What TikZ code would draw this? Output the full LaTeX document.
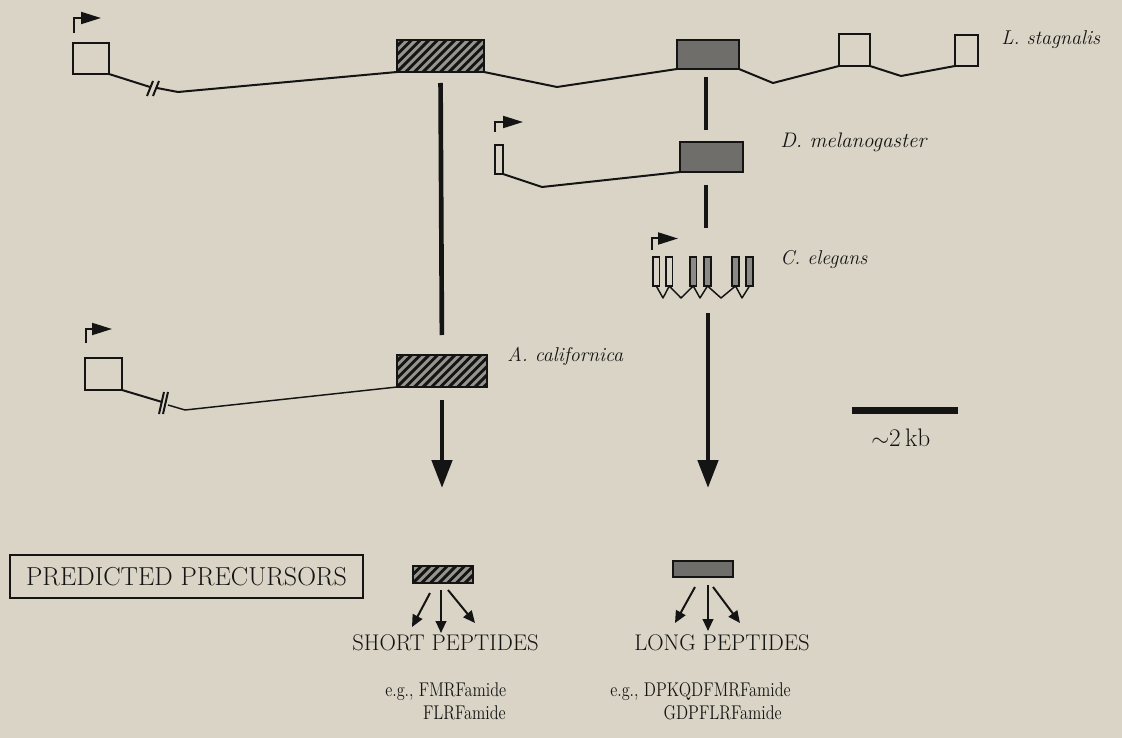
\documentclass[tikz,border=0pt]{standalone}
\usepackage{graphicx}
\usetikzlibrary{arrows.meta}
\definecolor{bg}{RGB}{217,212,197}
\definecolor{hatchbg}{RGB}{150,148,140}
\definecolor{shade}{RGB}{112,110,106}
\definecolor{ceshade}{RGB}{140,138,132}
\definecolor{ink}{RGB}{20,20,20}
\newcommand\exon[6]{\node[#6, minimum width={(#4-#2)*0.75pt}, minimum height={(#5-#3)*0.75pt}] (#1) at ({(#2+#4)/2},{(#3+#5)/2}) {};}
\newcommand\tall[1]{\scalebox{1}[1.22]{#1}}
\tikzset{
  gline/.style={draw=ink, line width=1.5pt, line join=round},
  tline/.style={draw=ink, line width=1.1pt, line join=round},
  exonw/.style={rectangle, draw=ink, line width=1.5pt, inner sep=0pt, outer sep=0pt},
  hatch/.style={exonw, fill=hatchbg, path picture={\foreach \k in {-20,...,20}{\draw[ink,line width=2.2pt] ([xshift=\k*6.5pt]path picture bounding box.south west) -- ++(60pt,60pt);}}},
  exons/.style={exonw, fill=shade},
  exonc/.style={exonw, line width=1.2pt, fill=ceshade},
  exoncw/.style={exonw, line width=1.2pt},
  bigline/.style={draw=ink, line width=3.5pt},
  bigarrow/.style={bigline, -{Triangle[length=21pt,width=15pt]}},
  promo/.style={draw=ink, line width=1.5pt, -{Triangle[length=15pt,width=9pt]}},
  smallarrow/.style={draw=ink, line width=1.5pt, -{Triangle[length=9pt,width=8pt]}},
  species/.style={font=\fontsize{15}{18}\selectfont\itshape, text=ink, inner sep=0pt, anchor=base west},
  caps/.style={font=\fontsize{17}{20}\selectfont, text=ink, inner sep=0pt, anchor=base west},
  pep/.style={font=\fontsize{12.2}{15}\selectfont, text=ink, inner sep=0pt},
}
\begin{document}
\begin{tikzpicture}[x=0.75pt,y=-0.75pt]
\useasboundingbox (0,0) rectangle (1122,738);
\fill[bg] (0,0) rectangle (1122,738);

% L. stagnalis
\exon{ls1}{73}{43}{109}{74}{exonw}
\exon{ls2}{397}{40}{484}{72}{hatch}
\exon{ls3}{677}{40}{739}{69}{exons}
\exon{ls4}{839}{34}{870}{66}{exonw}
\exon{ls5}{955}{35}{978}{66}{exonw}
\draw[gline] (ls1.south east) -- (150,87);
\draw[gline] (147,96) -- (153,81);
\draw[gline] (153,96) -- (159,81);
\draw[gline] (157,88) -- (178,92) -- (ls2.south west);
\draw[gline] (ls2.south east) -- (557,87) -- (ls3.south west);
\draw[gline] (ls3.south east) -- (773,83) -- (ls4.south west);
\draw[gline] (ls4.south east) -- (901,76) -- (ls5.south west);
\draw[promo] (74,33) -- (74,18) -- (101,18);
\node[species] (lsl) at (1001,45) {L. stagnalis};

% D. melanogaster
\exon{dm1}{495}{145}{503}{174}{exonw}
\exon{dm2}{680}{142}{743}{172}{exons}
\draw[gline] (dm1.south east) -- (542,187) -- (dm2.south west);
\draw[promo] (495,132) -- (495,122) -- (523,122);
\node[species, font=\fontsize{15.8}{18}\selectfont\itshape] (dml) at (780,148) {D. melanogaster};

% C. elegans
\exon{ce1}{653}{257}{659.5}{286}{exoncw}
\exon{ce2}{666}{257}{672.5}{286}{exoncw}
\exon{ce3}{690}{257}{696.5}{286}{exonc}
\exon{ce4}{704}{257}{711}{286}{exonc}
\exon{ce5}{732}{257}{739}{286}{exonc}
\exon{ce6}{746}{257}{753}{286}{exonc}
\draw[tline] (ce1.south) -- (663,298) -- (ce2.south) -- (681,298) -- (ce3.south) -- (700,298) -- (ce4.south) -- (721,298) -- (ce5.south) -- (742,298) -- (ce6.south);
\draw[promo] (652,250) -- (652,238.5) -- (678,238.5);
\node[species] (cel) at (780,265) {C. elegans};

% A. californica
\exon{ac1}{85}{358}{122}{390}{exonw}
\exon{ac}{397}{355}{487}{387}{hatch}
\draw[gline] (ac1.south east) -- (162,402);
\draw[gline] (159,414) -- (164,392);
\draw[gline] (163,414) -- (168,392);
\draw[tline] (168,405) -- (185,410) -- (ac.south west);
\draw[promo] (86,343) -- (86,329) -- (112,329);
\node[species] (acl) at (507,361) {A. californica};

% vertical connectors
\coordinate (tipL) at (442,488);
\coordinate (r1a) at (706,77);
\coordinate (r1b) at (706,130);
\coordinate (r2a) at (706,185);
\coordinate (r2b) at (706,228);
\coordinate (r3a) at (708,313);
\coordinate (tipR) at (708,488);
\draw[bigline, shorten <=8.25pt, shorten >=15pt] (ls2.south) -- (ac.north);
\draw[bigarrow, shorten <=9.75pt] (ac.south) -- (tipL);
\draw[bigline] (r1a) -- (r1b);
\draw[bigline] (r2a) -- (r2b);
\draw[bigarrow] (r3a) -- (tipR);

% scale bar
\coordinate (sb1) at (852,410.5);
\coordinate (sb2) at (958,410.5);
\draw[draw=ink, line width=5pt] (sb1) -- (sb2);
\node[font=\fontsize{19}{22}\selectfont, text=ink, inner sep=0pt, anchor=base west] (sbl) at (871,446) {$\sim$2\,kb};

% predicted precursors
\node[rectangle, draw=ink, line width=2pt, minimum width={353*0.75pt}, minimum height={43*0.75pt}, inner sep=0pt, font=\fontsize{19.5}{22}\selectfont, text=ink] (pp) at (186.5,576.5) {PREDICTED PRECURSORS};
\exon{pL}{413}{566}{473}{583}{hatch}
\exon{pR}{673}{561}{733}{577}{exons}
\draw[smallarrow] (430,593) -- (412,627);
\draw[smallarrow] (441,590) -- (441,633);
\draw[smallarrow] (448,590) -- (475,623);
\draw[smallarrow] (695,587) -- (675,623);
\draw[smallarrow] (708,585) -- (708,631);
\draw[smallarrow] (713,587) -- (740,623);

\node[caps] (sp) at (352,650) {SHORT PEPTIDES};
\node[caps] (lp) at (634,650) {LONG PEPTIDES};
\node[pep, anchor=base west] (p1) at (385,696) {\tall{e.g., FMRFamide}};
\node[pep, anchor=base east] (p2) at (506,719) {\tall{FLRFamide}};
\node[pep, anchor=base west] (p3) at (610,696) {\tall{e.g., DPKQDFMRFamide}};
\node[pep, anchor=base east] (p4) at (782,719) {\tall{GDPFLRFamide}};
\end{tikzpicture}
\end{document}
